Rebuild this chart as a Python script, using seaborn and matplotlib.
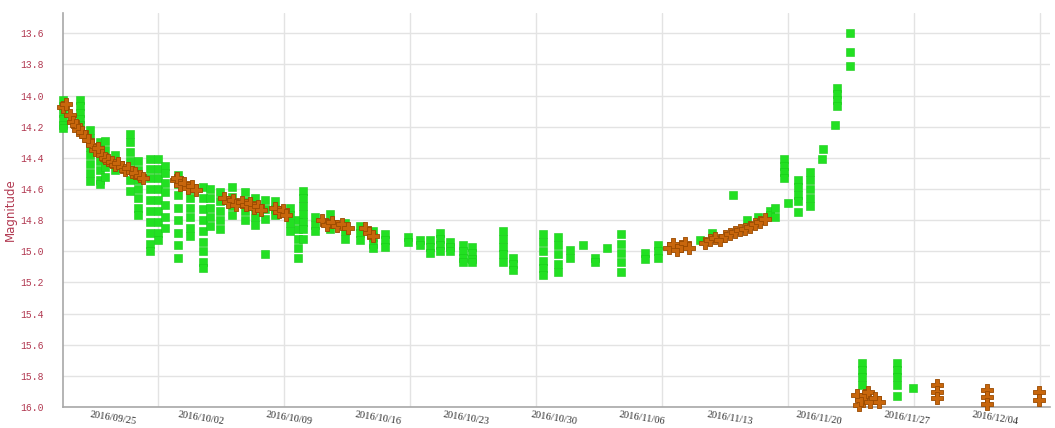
import numpy as np
import pandas as pd
import matplotlib
matplotlib.use("Agg")
import matplotlib.pyplot as plt
import seaborn as sns

# Days are counted from 2016-09-25 00:00 UT
BASE_DATE = "2016-09-25"
BASE_JD = 2457656.5

# Green squares: (day, [magnitudes observed that night])
green_runs = [
    (-4.05, [14.03, 14.07, 14.11, 14.15, 14.19, 14.21]),
    (-2.70, [14.03, 14.07, 14.11, 14.15, 14.19]),
    (-1.90, [14.22, 14.27, 14.33, 14.38, 14.44, 14.50, 14.55]),
    (-1.11, [14.30, 14.36, 14.42, 14.48, 14.54, 14.57]),
    (-0.71, [14.29, 14.35, 14.40, 14.46, 14.52]),
    (0.08, [14.38, 14.43, 14.48]),
    (1.27, [14.25, 14.30, 14.36, 14.42, 14.48, 14.54, 14.61]),
    (1.90, [14.42, 14.48, 14.54, 14.60, 14.66, 14.72, 14.77]),
    (2.86, [14.41, 14.47, 14.53, 14.60, 14.67, 14.74, 14.81, 14.88, 14.95, 15.00]),
    (3.49, [14.41, 14.47, 14.53, 14.60, 14.67, 14.74, 14.81, 14.88, 14.93]),
    (4.05, [14.45, 14.50, 14.56, 14.62, 14.70, 14.78, 14.85]),
    (5.08, [14.51, 14.57, 14.64, 14.72, 14.80, 14.88, 14.96, 15.04]),
    (6.03, [14.60, 14.66, 14.72, 14.78, 14.85, 14.90]),
    (7.06, [14.59, 14.66, 14.73, 14.80, 14.87, 14.94, 15.00, 15.07, 15.11]),
    (7.62, [14.60, 14.66, 14.72, 14.78, 14.84]),
    (8.41, [14.62, 14.68, 14.74, 14.80, 14.86]),
    (9.37, [14.59, 14.65, 14.71, 14.77]),
    (10.40, [14.62, 14.68, 14.74, 14.80]),
    (11.19, [14.66, 14.72, 14.78, 14.83]),
    (11.98, [14.67, 14.73, 14.79, 15.02]),
    (12.78, [14.68, 14.73, 14.77]),
    (13.97, [14.72, 14.77, 14.82, 14.87]),
    (14.60, [14.80, 14.86, 14.92, 14.98, 15.04]),
    (15.00, [14.61, 14.66, 14.71, 14.76, 14.81, 14.86, 14.92]),
    (15.95, [14.78, 14.83, 14.87]),
    (17.14, [14.76, 14.81, 14.86]),
    (18.33, [14.82, 14.87, 14.92]),
    (19.52, [14.84, 14.88, 14.93]),
    (20.56, [14.87, 14.91, 14.95, 14.98]),
    (21.51, [14.89, 14.93, 14.97]),
    (23.33, [14.91, 14.94]),
    (24.29, [14.93, 14.96]),
    (25.08, [14.93, 14.97, 15.01]),
    (25.87, [14.88, 14.92, 14.96, 15.00]),
    (26.67, [14.94, 14.97, 15.00]),
    (27.70, [14.96, 15.00, 15.04, 15.07]),
    (28.41, [14.97, 15.01, 15.05, 15.07]),
    (30.87, [14.87, 14.92, 14.97, 15.02, 15.07]),
    (31.67, [15.04, 15.08, 15.12]),
    (34.05, [14.89, 14.94, 15.00, 15.06, 15.11, 15.15]),
    (35.24, [14.91, 14.96, 15.02, 15.08, 15.13]),
    (36.19, [14.99, 15.04]),
    (37.22, [14.96]),
    (38.17, [15.04, 15.07]),
    (39.13, [14.98]),
    (40.24, [14.89, 14.95, 15.01, 15.07, 15.13]),
    (42.14, [15.01, 15.05]),
    (43.17, [14.96, 15.00, 15.04]),
    (46.51, [14.93]),
    (47.46, [14.88]),
    (49.13, [14.64]),
    (50.30, [14.80]),
    (51.10, [14.78]),
    (52.06, [14.74, 14.77]),
    (52.46, [14.72, 14.78]),
    (53.17, [14.41, 14.45, 14.49, 14.53]),
    (53.49, [14.69]),
    (54.29, [14.54, 14.59, 14.64, 14.68, 14.75]),
    (55.24, [14.49, 14.54, 14.60, 14.66, 14.71]),
    (56.19, [14.41]),
    (56.27, [14.34]),
    (57.22, [14.19]),
    (57.38, [13.95, 13.99, 14.03, 14.07]),
    (58.41, [13.60, 13.72, 13.81]),
    (59.37, [15.72, 15.76, 15.81, 15.86, 15.94]),
    (62.14, [15.72, 15.76, 15.81, 15.86, 15.93]),
    (63.41, [15.88]),
]

# Orange crosses: day and magnitude
orange_day = [
    -4.05, -3.81, -3.49, -3.25, -3.02, -2.86, -2.54, -2.30, -2.06, -1.75,
    -1.51, -1.27, -0.95, -0.71, -0.48, -0.16, 0.08, 0.32, 0.63, 0.87,
    1.11, 1.43, 1.67, 2.06, 2.30,
    4.92, 5.00, 5.24, 5.56, 5.87, 6.19, 6.51,
    8.73, 9.05, 9.44, 9.68,
    10.16, 10.48, 10.79, 11.11, 11.43, 11.67,
    12.78, 13.10, 13.41, 13.65,
    16.51, 16.90, 17.30, 17.70, 18.10, 18.57,
    19.92, 20.24, 20.56,
    44.05, 44.37, 44.68, 45.00, 45.32, 45.63,
    46.90, 47.30, 47.70, 48.10, 48.49, 48.89, 49.29, 49.68, 50.08, 50.48,
    50.87, 51.27, 51.67,
    58.97, 59.13, 59.29, 59.60, 59.84, 60.00, 60.40, 60.71,
    65.32, 65.32, 65.32,
    69.29, 69.29, 69.29,
    73.41, 73.41,
]
orange_mag = [
    14.074, 14.055, 14.126, 14.171, 14.190, 14.222, 14.235, 14.260, 14.286, 14.318,
    14.350, 14.337, 14.382, 14.401, 14.414, 14.427, 14.446, 14.433, 14.459, 14.478,
    14.465, 14.491, 14.497, 14.517, 14.529,
    14.542, 14.529, 14.574, 14.562, 14.594, 14.581, 14.606,
    14.658, 14.683, 14.671, 14.703,
    14.683, 14.703, 14.690, 14.722, 14.709, 14.735,
    14.722, 14.747, 14.735, 14.767,
    14.799, 14.831, 14.812, 14.837, 14.825, 14.850,
    14.850, 14.882, 14.901,
    14.978, 14.952, 14.990, 14.965, 14.946, 14.978,
    14.946, 14.927, 14.914, 14.927, 14.901, 14.888, 14.876, 14.863, 14.856, 14.844,
    14.825, 14.812, 14.792,
    15.921, 15.985, 15.952, 15.921, 15.901, 15.965, 15.940, 15.965,
    15.856, 15.901, 15.940,
    15.888, 15.933, 15.978,
    15.901, 15.952,
]

date_labels = ["2016/09/25", "2016/10/02", "2016/10/09", "2016/10/16",
               "2016/10/23", "2016/10/30", "2016/11/06", "2016/11/13",
               "2016/11/20", "2016/11/27", "2016/12/04"]
mag_ticks = [13.6, 13.8, 14.0, 14.2, 14.4, 14.6, 14.8, 15.0, 15.2, 15.4, 15.6, 15.8, 16.0]

green_df = pd.DataFrame(
    [(d, m) for d, mags in green_runs for m in mags], columns=["day", "mag"]
)
orange_df = pd.DataFrame({"day": orange_day, "mag": orange_mag})

sns.set_style("white")
plt.rcParams["font.family"] = ["DejaVu Sans"]

fig = plt.figure(figsize=(10.55, 4.28), dpi=100)
ax = fig.add_axes([0.0597, 0.049, 0.9353, 0.9206])

label_color = "#B23A52"
grid_color = "#E3E3E3"

# Grid: horizontal lines at each magnitude tick, vertical lines every 10 JD
for m in mag_ticks:
    ax.axhline(m, color=grid_color, lw=1.0, zorder=0)
jd_grid = np.arange(2457660, 2457750, 10) - BASE_JD
for g in jd_grid:
    ax.axvline(g, color=grid_color, lw=1.0, zorder=0)

sns.scatterplot(data=green_df, x="day", y="mag", marker="s", s=30,
                color="#22E022", edgecolor="#18CC18", linewidth=0.4,
                ax=ax, zorder=3, clip_on=False)
sns.scatterplot(data=orange_df, x="day", y="mag", marker="P", s=85,
                color="#C8660C", edgecolor="#9A4A00", linewidth=0.6,
                ax=ax, zorder=4, clip_on=False)

ax.set_xlim(-4.05, 74.3)
ax.set_ylim(16.0, 13.47)

# Date ticks placed from the label strings
tick_days = [(pd.Timestamp(s.replace("/", "-")) - pd.Timestamp(BASE_DATE)).days
             for s in date_labels]
ax.set_xticks(tick_days)
ax.set_xticklabels(date_labels, rotation=-9, ha="center", va="top",
                   rotation_mode="anchor", family="Liberation Serif",
                   fontsize=7.5, color="#333333")
ax.tick_params(axis="x", length=2, width=0.6, color="#999999", pad=3)

ax.set_yticks(mag_ticks)
ax.set_yticklabels([f"{v:.1f}" for v in mag_ticks], family="Liberation Mono",
                   fontsize=7, color=label_color)
ax.tick_params(axis="y", length=0, pad=14)

ax.set_xlabel("")
ax.set_ylabel("Magnitude", color=label_color, fontsize=8.5)
ax.yaxis.set_label_coords(-0.047, 0.5)

for side in ["top", "right"]:
    ax.spines[side].set_visible(False)
for side in ["left", "bottom"]:
    ax.spines[side].set_color("#A8A8A8")
    ax.spines[side].set_linewidth(1.2)

fig.savefig("out.png", dpi=100, facecolor="white")
